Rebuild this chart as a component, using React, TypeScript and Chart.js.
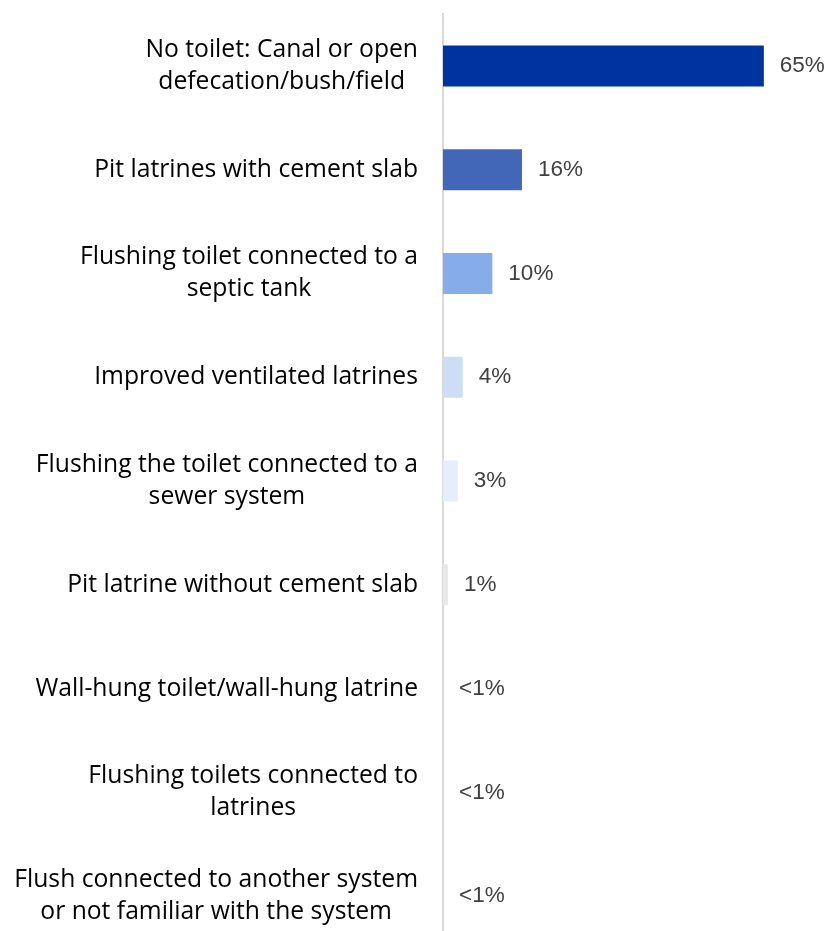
import React, { useEffect, useRef } from "react";
import { Chart, registerables } from "chart.js";

Chart.register(...registerables);

const categories: string[][] = [
  ["No toilet: Canal or open", "defecation/bush/field"],
  ["Pit latrines with cement slab"],
  ["Flushing toilet connected to a", "septic tank"],
  ["Improved ventilated latrines"],
  ["Flushing the toilet connected to a", "sewer system"],
  ["Pit latrine without cement slab"],
  ["Wall-hung toilet/wall-hung latrine"],
  ["Flushing toilets connected to", "latrines"],
  ["Flush connected to another system", "or not familiar with the system"],
];
const values: number[] = [65, 16, 10, 4, 3, 1, 0, 0, 0];
const valueLabels: string[] = ["65%", "16%", "10%", "4%", "3%", "1%", "<1%", "<1%", "<1%"];
const barColors: string[] = [
  "#0033A0",
  "#4267B8",
  "#86ADEA",
  "#CCDDF5",
  "#E6EEFB",
  "#E8E8E8",
  "#E8E8E8",
  "#E8E8E8",
  "#E8E8E8",
];

const CAT_FONT = '24.7px "Open Sans", sans-serif';
const VAL_FONT = '22.5px "Liberation Sans", Arial, sans-serif';

const labelPlugin = {
  id: "customLabels",
  afterDraw(chart: any) {
    const ctx = chart.ctx;
    const y = chart.scales.y;
    const x = chart.scales.x;
    ctx.save();
    ctx.font = CAT_FONT;
    ctx.fillStyle = "#000000";
    ctx.textBaseline = "middle";
    ctx.textAlign = "center";
    const rightEdge = chart.chartArea.left - 25;
    const lineH = 32;
    categories.forEach((lines, i) => {
      const cy = y.getPixelForValue(i);
      const maxW = Math.max(...lines.map((l) => ctx.measureText(l).width));
      const cx = rightEdge - maxW / 2;
      const startY = cy - ((lines.length - 1) * lineH) / 2;
      lines.forEach((l, j) => ctx.fillText(l, cx, startY + j * lineH));
    });
    ctx.font = VAL_FONT;
    ctx.fillStyle = "#404040";
    ctx.textAlign = "left";
    values.forEach((v, i) => {
      const px = x.getPixelForValue(v) + 16;
      const cy = y.getPixelForValue(i);
      ctx.fillText(valueLabels[i], px, cy);
    });
    ctx.restore();
  },
};

export default function App() {
  const ref = useRef<HTMLCanvasElement>(null);
  useEffect(() => {
    if (!ref.current) return;
    const chart = new Chart(ref.current, {
      type: "bar",
      data: {
        labels: categories.map((c) => c.join(" ")),
        datasets: [
          {
            data: values,
            backgroundColor: barColors,
            borderWidth: 0,
            categoryPercentage: 1,
            barPercentage: 0.395,
          },
        ],
      },
      options: {
        indexAxis: "y",
        animation: false,
        responsive: false,
        maintainAspectRatio: false,
        layout: { padding: { top: 14, bottom: 0, left: 0, right: 0 } },
        plugins: {
          legend: { display: false },
          tooltip: { enabled: false },
        },
        scales: {
          x: {
            display: false,
            min: 0,
            max: 78,
          },
          y: {
            display: true,
            ticks: { display: false },
            grid: { display: true, drawOnChartArea: false, drawTicks: false },
            border: { display: true, color: "#D9D9D9", width: 2 },
            afterFit: (scale: any) => {
              scale.width = 443;
            },
          },
        },
      },
      plugins: [labelPlugin],
    });
    return () => chart.destroy();
  }, []);
  return (
    <div
      style={{
        position: "absolute",
        left: 0,
        top: 0,
        width: 828,
        height: 931,
        overflow: "hidden",
        background: "#ffffff",
      }}
    >
      <canvas ref={ref} width={828} height={948} style={{ display: "block" }} />
    </div>
  );
}
